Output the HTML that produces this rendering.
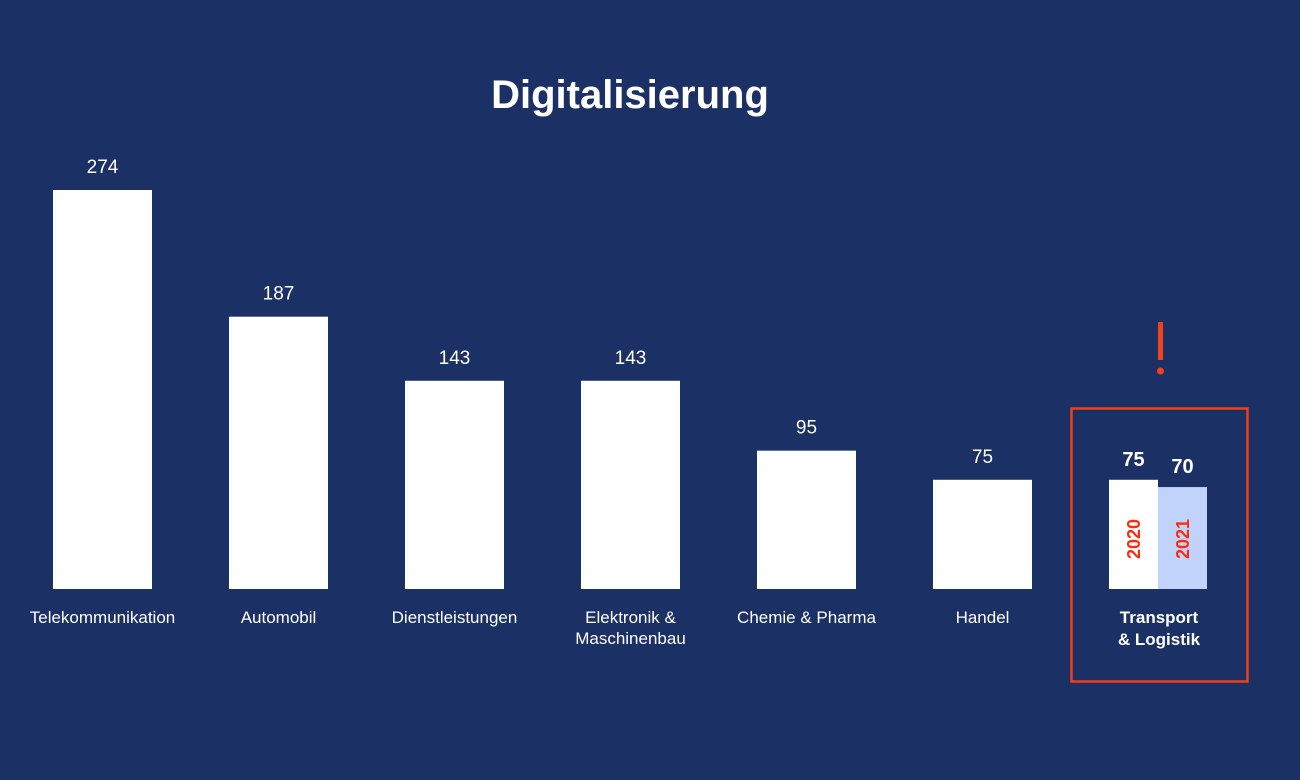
<!DOCTYPE html>
<html><head><meta charset="utf-8"><style>
body{margin:0;width:1300px;height:780px;background:#1b3064;overflow:hidden;font-family:"Liberation Sans",sans-serif}
svg{display:block}
</style></head><body>
<svg id="chart" width="1300" height="780">
<text x="630" y="108" text-anchor="middle" fill="#fff" font-size="40" font-weight="bold">Digitalisierung</text>
<g id="bars"></g>
<rect x="1071.5" y="408.5" width="176" height="273" fill="none" stroke="#f0401c" stroke-width="2.5"/>
<rect x="1158" y="322" width="5" height="38" fill="#f0401c"/>
<circle cx="1160.5" cy="371" r="3.5" fill="#f0401c"/>
</svg>
<script>
const categories=["Telekommunikation","Automobil","Dienstleistungen","Elektronik &|Maschinenbau","Chemie & Pharma","Handel"];
const values=[274,187,143,143,95,75];
const groupYears=["2020","2021"];
const groupValues=[75,70];
const groupLabel="Transport|& Logistik";
const NS="http://www.w3.org/2000/svg";
const g=document.getElementById('bars');
const base=589, scale=399/274;
function y(v){return base-v*scale;}
function xc(i){return 102.5+i*176;}
function mk(tag,attrs){const e=document.createElementNS(NS,tag);for(const k in attrs)e.setAttribute(k,attrs[k]);g.appendChild(e);return e;}
categories.forEach((c,i)=>{
  const r=mk('rect',{x:xc(i)-49.5,y:y(values[i]),width:99,height:values[i]*scale,fill:'#fff'});
  
  
  const t=mk('text',{x:xc(i),y:y(values[i])-17,'text-anchor':'middle',fill:'#fff','font-size':19});
  t.textContent=values[i];
  
  
  c.split('|').forEach((line,j)=>{
    const l=mk('text',{x:xc(i),y:623+j*21,'text-anchor':'middle',fill:'#fff','font-size':17});
    l.textContent=line;
    
    
  });
});
const fills=['#fff','#c2d3fb'];
groupValues.forEach((v,j)=>{
  const x0=1109+j*49;
  const r=mk('rect',{x:x0,y:y(v),width:49,height:v*scale,fill:fills[j]});
  
  
  const t=mk('text',{x:x0+24.5,y:y(v)-14,'text-anchor':'middle',fill:'#fff','font-size':20,'font-weight':'bold'});
  t.textContent=v;
  
  
  const yr=mk('text',{x:0,y:0,'text-anchor':'middle',fill:'#ff2a0a','font-size':18,'font-weight':'bold',transform:`translate(${x0+31},539) rotate(-90)`});
  yr.textContent=groupYears[j];
  
  
});
groupLabel.split('|').forEach((line,j)=>{
  const l=mk('text',{x:1159,y:623+j*22,'text-anchor':'middle',fill:'#fff','font-size':17,'font-weight':'bold'});
  l.textContent=line;
  
  
});
</script>
</body></html>
